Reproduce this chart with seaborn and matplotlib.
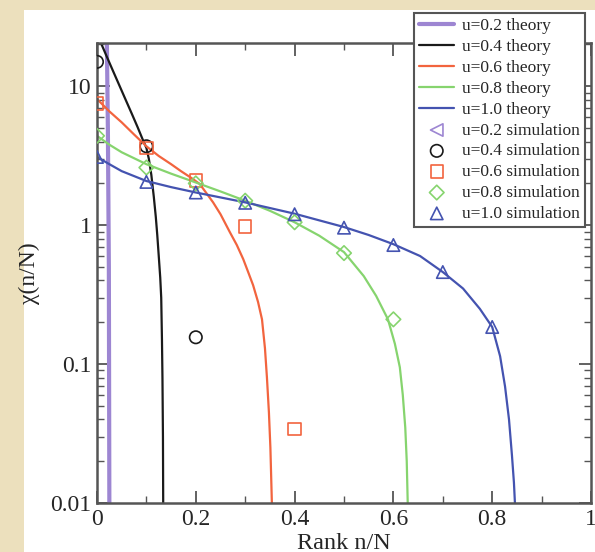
import numpy as np
import pandas as pd
import matplotlib
matplotlib.use("Agg")
import matplotlib.pyplot as plt
import seaborn as sns
from matplotlib.patches import Rectangle
from matplotlib.ticker import FixedLocator, FixedFormatter, LogLocator, NullFormatter

# theory curves
u02_x = [0.020, 0.022, 0.024, 0.025]
u02_y = [20.5, 5.0, 0.5, 0.01]

u04_x = [0.008, 0.02, 0.032, 0.045, 0.058, 0.07, 0.082, 0.093, 0.1, 0.105, 0.11, 0.115,
         0.119, 0.122, 0.125, 0.128, 0.13, 0.1315, 0.1325, 0.1335, 0.134]
u04_y = [20.5, 16.3, 13.0, 10.2, 8.0, 6.4, 5.1, 4.1, 3.6, 3.0, 2.3, 1.6,
         1.15, 0.85, 0.6, 0.42, 0.3, 0.15, 0.08, 0.03, 0.01]

u06_x = [0.0, 0.025, 0.05, 0.075, 0.1, 0.125, 0.15, 0.17, 0.19, 0.208, 0.235, 0.25,
         0.269, 0.283, 0.296, 0.306, 0.316, 0.326, 0.334, 0.34, 0.344, 0.348, 0.351, 0.354]
u06_y = [8.1, 6.6, 5.5, 4.5, 3.7, 3.15, 2.75, 2.45, 2.2, 1.98, 1.46, 1.2,
         0.89, 0.72, 0.57, 0.46, 0.37, 0.28, 0.21, 0.13, 0.08, 0.045, 0.025, 0.01]

u08_x = [0.0, 0.025, 0.05, 0.1, 0.15, 0.2, 0.25, 0.3, 0.35, 0.4, 0.45, 0.5, 0.54,
         0.565, 0.589, 0.603, 0.613, 0.619, 0.624, 0.627, 0.629]
u08_y = [4.4, 3.8, 3.35, 2.75, 2.35, 2.03, 1.75, 1.5, 1.27, 1.05, 0.84, 0.64, 0.43,
         0.31, 0.21, 0.14, 0.095, 0.06, 0.035, 0.02, 0.01]

u10_x = [0.0, 0.025, 0.05, 0.1, 0.15, 0.2, 0.3, 0.4, 0.5, 0.55, 0.6, 0.654, 0.7, 0.741,
         0.775, 0.8, 0.816, 0.826, 0.834, 0.84, 0.844, 0.846]
u10_y = [3.1, 2.75, 2.45, 2.08, 1.88, 1.72, 1.46, 1.21, 0.97, 0.85, 0.73, 0.6, 0.46, 0.35,
         0.25, 0.185, 0.114, 0.069, 0.04, 0.022, 0.014, 0.01]

# simulation points
s02_x = [0.0]
s02_y = [40.0]
s04_x = [0.0, 0.1, 0.2]
s04_y = [15.0, 3.7, 0.156]
s06_x = [0.0, 0.1, 0.2, 0.3, 0.4]
s06_y = [7.5, 3.6, 2.1, 0.98, 0.034]
s08_x = [0.0, 0.1, 0.2, 0.3, 0.4, 0.5, 0.6]
s08_y = [4.4, 2.6, 2.0, 1.5, 1.05, 0.63, 0.21]
s10_x = [0.0, 0.1, 0.2, 0.3, 0.4, 0.5, 0.6, 0.7, 0.8]
s10_y = [3.1, 2.05, 1.72, 1.45, 1.2, 0.96, 0.72, 0.46, 0.185]

labels = ["u=0.2", "u=0.4", "u=0.6", "u=0.8", "u=1.0"]
colors = ["#9d86d2", "#1a1a1a", "#f2643e", "#86d46e", "#4453b0"]
markers = ["<", "o", "s", "D", "^"]

sns.set_style("ticks")
plt.rcParams["font.family"] = ["Liberation Serif", "DejaVu Serif"]

fig = plt.figure(figsize=(5.95, 5.52), dpi=100)
fig.patch.set_facecolor("#ece0bd")
# white panel behind the plot
fig.patches.append(Rectangle((24 / 595, 0), 1, 1 - 10 / 552, transform=fig.transFigure,
                             facecolor="white", edgecolor="none", zorder=-10))
ax = fig.add_axes([97 / 595, 1 - 503 / 552, 494 / 595, 460 / 552])
ax.set_facecolor("white")

theory = [(u02_x, u02_y), (u04_x, u04_y), (u06_x, u06_y), (u08_x, u08_y), (u10_x, u10_y)]
sims = [(s02_x, s02_y), (s04_x, s04_y), (s06_x, s06_y), (s08_x, s08_y), (s10_x, s10_y)]

for (x, y), lab, c in zip(theory, labels, colors):
    lw = 3.0 if lab == "u=0.2" else 1.6
    df = pd.DataFrame({"x": x, "y": y})
    sns.lineplot(data=df, x="x", y="y", sort=False, color=c, lw=lw, ax=ax,
                 label=lab + " theory")

for (x, y), lab, c, m in zip(sims, labels, colors, markers):
    df = pd.DataFrame({"x": x, "y": y})
    s = 55 if m == "D" else 80
    sns.scatterplot(data=df, x="x", y="y", marker=m, s=s, color=c, facecolor="none",
                    edgecolor=c, linewidth=1.2, ax=ax, label=lab + " simulation",
                    clip_on=True, zorder=3)

ax.set_yscale("log")
ax.set_xlim(0, 1)
ax.set_ylim(0.01, 20.5)

ax.xaxis.set_major_locator(FixedLocator([0, 0.2, 0.4, 0.6, 0.8, 1.0]))
ax.xaxis.set_major_formatter(FixedFormatter(["0", "0.2", "0.4", "0.6", "0.8", "1"]))
ax.xaxis.set_minor_locator(FixedLocator([0.1, 0.3, 0.5, 0.7, 0.9]))
ax.yaxis.set_major_locator(FixedLocator([0.01, 0.1, 1, 10]))
ax.yaxis.set_major_formatter(FixedFormatter(["0.01", "0.1", "1", "10"]))
ax.yaxis.set_minor_locator(LogLocator(base=10, subs=np.arange(2, 10)))
ax.yaxis.set_minor_formatter(NullFormatter())

ax.tick_params(which="both", direction="in", top=True, right=True, color="#555555")
ax.tick_params(which="major", length=9, width=1.3, labelsize=17, pad=4)
ax.tick_params(which="minor", length=5, width=1.0)
for sp in ax.spines.values():
    sp.set_color("#555555")
    sp.set_linewidth(1.8)

ax.set_xlabel("Rank n/N", fontsize=17.5)
ax.set_ylabel("χ(n/N)", fontsize=17)
ax.xaxis.set_label_coords(0.5, -0.065)
ax.yaxis.set_label_coords(-0.115, 0.5)

handles, labs = ax.get_legend_handles_labels()
ax.legend_.remove()
leg = fig.legend(handles, labs, loc="upper right", bbox_to_anchor=(585 / 595, 1 - 13 / 552),
                 fontsize=12.5, frameon=True, fancybox=False, edgecolor="#555555",
                 framealpha=1, labelspacing=0.27, handlelength=2.0, handletextpad=0.45,
                 borderpad=0.3, borderaxespad=0)
leg.get_frame().set_linewidth(1.5)
leg.set_zorder(10)

fig.savefig("out.png", dpi=100, facecolor=fig.get_facecolor())
